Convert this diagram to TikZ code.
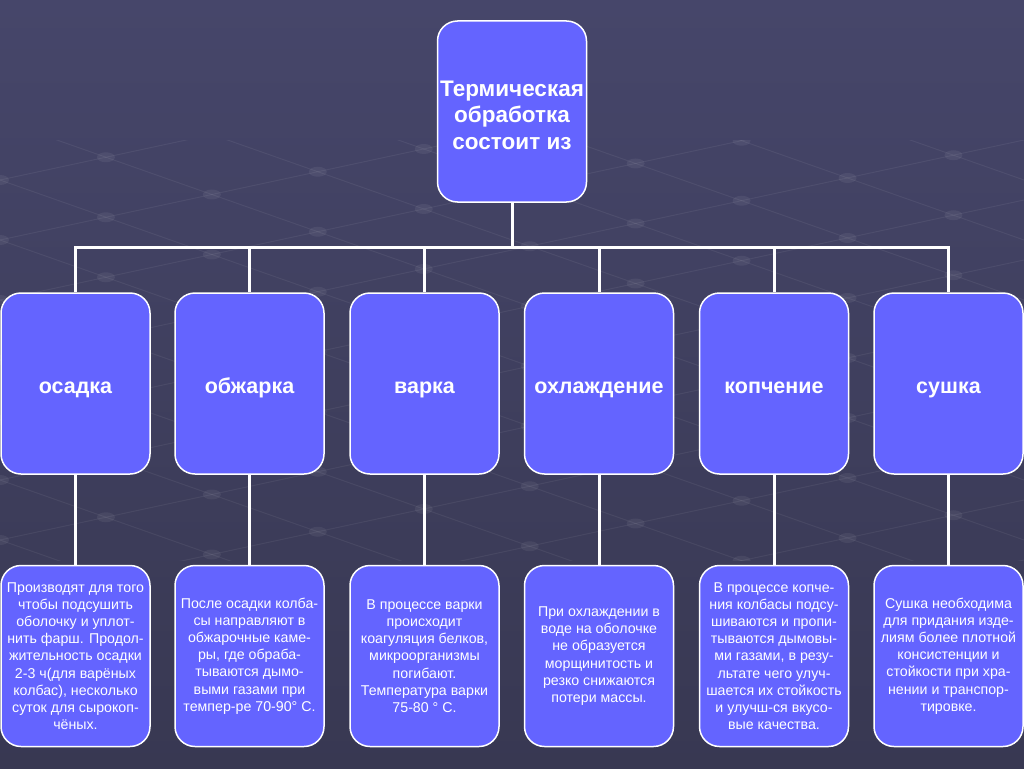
\documentclass[tikz,border=0pt]{standalone}
\usepackage{fontspec}
\setmainfont{Liberation Sans}
\begin{document}
\begin{tikzpicture}[x=1pt,y=-1pt]
\definecolor{boxfill}{HTML}{6464FF}
\definecolor{bgtop}{HTML}{46466A}
\definecolor{bgmid}{HTML}{55557C}
\definecolor{bgbot}{HTML}{383852}
\tikzset{
 box/.style={draw=white, line width=1.5pt, fill=boxfill, rounded corners=20pt, minimum width=149pt, minimum height=181pt, text=white, align=center, inner sep=2pt},
 headtext/.style={text=white, align=center, font=\bfseries\fontsize{22.5}{26.5}\selectfont},
 stage/.style={box, font=\bfseries\fontsize{21.5}{24}\selectfont, text height=19pt, text depth=0pt},
 desc/.style={box, font=\fontsize{14.2}{17.2}\selectfont},
 link/.style={draw=white, line width=3pt},
 mesh/.style={draw=white, opacity=0.06, line width=1pt},
 meshdot/.style={fill=white, opacity=0.06}
}
\fill[top color=bgtop, middle color=bgmid, bottom color=bgbot] (0,0) rectangle (1024,768);
\useasboundingbox (0,0) rectangle (1024,768);

\begin{scope}
\clip (0,140) rectangle (1024,560);
\foreach \c in {-600,-540,...,900} {
  \draw[mesh] (0,\c) -- (1024,\c-220);
  \draw[mesh] (0,\c) -- (1024,\c+360);
}
\foreach \i in {-12,...,16} {
  \foreach \k in {-12,...,16} {
    \pgfmathsetmacro{\px}{(60*\k-60*\i)/(0.3516+0.2148)}
    \pgfmathsetmacro{\py}{60*\i+0.3516*\px}
    \fill[meshdot] (\px,\py) ellipse (9 and 5);
  }
}
\end{scope}

\coordinate (j) at (512,247);
\node[box, label={[headtext, yshift=-3.5pt]center:Термическая\\обработка\\состоит из}] (top) at (512,111.5) {};

\node[stage] (m1) at (75.5,383.5) {осадка};
\node[stage] (m2) at (249.5,383.5) {обжарка};
\node[stage] (m3) at (424.5,383.5) {варка};
\node[stage] (m4) at (599,383.5) {охлаждение};
\node[stage] (m5) at (774,383.5) {копчение};
\node[stage] (m6) at (948.5,383.5) {сушка};

\node[desc] (d1) at (75.5,656) {Производят для того\\чтобы подсушить\\оболочку и уплот-\\нить фарш. Продол-\\жительность осадки\\2-3 ч(для варёных\\колбас), несколько\\суток для сырокоп-\\чёных.};
\node[desc] (d2) at (249.5,656) {После осадки колба-\\сы направляют в\\обжарочные каме-\\ры, где обраба-\\тываются дымо-\\выми газами при\\темпер-ре 70-90° С.};
\node[desc] (d3) at (424.5,656) {В процессе варки\\происходит\\коагуляция белков,\\микроорганизмы\\погибают.\\Температура варки\\75-80 ° С.};
\node[desc] (d4) at (599,656) {При охлаждении в\\воде на оболочке\\не образуется\\морщинитость и\\резко снижаются\\потери массы.};
\node[desc] (d5) at (774,656) {В процессе копче-\\ния колбасы подсу-\\шиваются и пропи-\\тываются дымовы-\\ми газами, в резу-\\льтате чего улуч-\\шается их стойкость\\и улучш-ся вкусо-\\вые качества.};
\node[desc] (d6) at (948.5,656) {Сушка необходима\\для придания изде-\\лиям более плотной\\консистенции и\\стойкости при хра-\\нении и транспор-\\тировке.};

\draw[link] (top.south) -- (j);
\draw[link] (m1.north) -- (m1.north |- j) -- (m6.north |- j) -- (m6.north);
\foreach \i in {2,3,4,5} { \draw[link] (m\i.north) -- (m\i.north |- j); }
\foreach \i in {1,...,6} { \draw[link] (m\i.south) -- (d\i.north); }
\end{tikzpicture}
\end{document}
